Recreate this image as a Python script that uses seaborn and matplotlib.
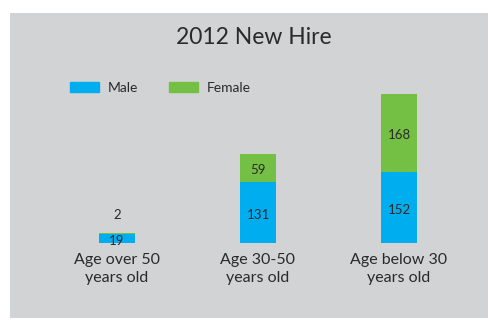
import matplotlib
matplotlib.use("Agg")
import matplotlib.pyplot as plt
import matplotlib.patches as mpatches
import seaborn as sns
import pandas as pd

categories = ["Age over 50\nyears old", "Age 30-50\nyears old", "Age below 30\nyears old"]
male = [19, 131, 152]
female = [2, 59, 168]
title = "2012 New Hire"

male_color = "#00aeef"
female_color = "#74c044"
panel_color = "#d2d3d5"
text_color = "#2b2a2a"

sns.set_theme(style="white")
plt.rcParams["font.family"] = ["Lato", "DejaVu Sans"]

fig = plt.figure(figsize=(4.88, 3.2), dpi=100)
fig.patch.set_facecolor("white")
# gray panel
panel = mpatches.Rectangle((10 / 488, 2 / 320), 478 / 488, 305 / 320,
                           transform=fig.transFigure, facecolor=panel_color,
                           edgecolor="none", zorder=-10)
fig.patches.append(panel)

ax = fig.add_axes([46.5 / 488, 77 / 320, 423 / 488, 163.5 / 320])
ax.set_facecolor("none")
ax.set_zorder(1)

totals = [m + f for m, f in zip(male, female)]
df = pd.DataFrame({"cat": categories, "male": male, "female": female, "total": totals})

sns.barplot(data=df, x="cat", y="total", color=female_color, saturation=1,
            width=0.255, ax=ax, edgecolor="none", linewidth=0)
sns.barplot(data=df, x="cat", y="male", color=male_color, saturation=1,
            width=0.255, ax=ax, edgecolor="none", linewidth=0)

ax.set_xlim(-0.5, 2.5)
ax.set_ylim(0, 350)
for s in ax.spines.values():
    s.set_visible(False)
ax.set_yticks([])
ax.set_xlabel("")
ax.set_ylabel("")
ax.tick_params(axis="x", length=0, pad=7, labelsize=11.5, labelcolor=text_color)
for t in ax.get_xticklabels():
    t.set_linespacing(1.4)

for i, (m, f) in enumerate(zip(male, female)):
    ax.text(i, m / 2 - 5, str(m), ha="center", va="center", fontsize=9.5, color=text_color)
    if f < 15:
        ax.text(i, m + f + 40, str(f), ha="center", va="center", fontsize=9.5, color=text_color)
    else:
        ax.text(i, m + f / 2 - 5, str(f), ha="center", va="center", fontsize=9.5, color=text_color)

fig.text(254 / 488, 1 - 37 / 320, title, ha="center", va="center",
         fontsize=16.5, color=text_color)

handles = [mpatches.Patch(color=male_color, label="Male"),
           mpatches.Patch(color=female_color, label="Female")]
fig.legend(handles=handles, loc="center left", bbox_to_anchor=(57 / 488, 1 - 88 / 320),
           ncol=2, frameon=False, fontsize=10, handlelength=2.1, handleheight=0.7,
           handletextpad=0.65, columnspacing=2.2, labelcolor=text_color)

fig.savefig("out.png", dpi=100, facecolor="white")
